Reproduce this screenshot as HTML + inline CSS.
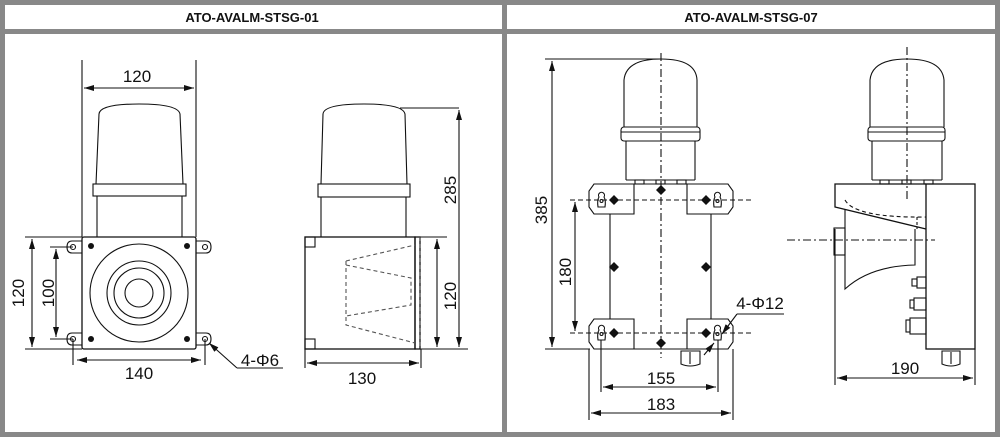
<!DOCTYPE html>
<html><head><meta charset="utf-8"><style>
html,body{margin:0;padding:0;background:#fff;}
svg{display:block;}
text{font-family:"Liberation Sans",Arial,sans-serif;fill:#111;}
</style></head><body>
<svg width="1000" height="437" viewBox="0 0 1000 437" xmlns="http://www.w3.org/2000/svg">
<defs>
<marker id="a" viewBox="0 0 10 6" refX="10" refY="3" markerWidth="10" markerHeight="6" markerUnits="userSpaceOnUse" orient="auto-start-reverse"><path d="M0,0 L10,3 L0,6 z" fill="#111"/></marker>
</defs>
<rect x="0" y="0" width="1000" height="437" fill="#888"/>
<rect x="5" y="5" width="497" height="24" fill="#fff"/>
<rect x="507" y="5" width="488" height="24" fill="#fff"/>
<rect x="5" y="34" width="497" height="398" fill="#fff"/>
<rect x="507" y="34" width="488" height="398" fill="#fff"/>
<text x="252" y="22" font-size="13" font-weight="bold" text-anchor="middle">ATO-AVALM-STSG-01</text>
<text x="751" y="22" font-size="13" font-weight="bold" text-anchor="middle">ATO-AVALM-STSG-07</text>

<g stroke="#111" stroke-width="1.1" fill="none">
<!-- LEFT FRONT VIEW -->
<path d="M96,184 L99,114 Q100,104 139,104 Q178,104 180,114 L183,184"/>
<rect x="93" y="184" width="93" height="12"/>
<line x1="97" y1="196" x2="97" y2="237"/><line x1="182" y1="196" x2="182" y2="237"/>
<rect x="82" y="237" width="114" height="112" rx="2" stroke-width="1.3"/>
<path d="M82,241 L72,241 Q67,241 67,247 Q67,253 72,253 L82,253"/>
<path d="M82,333 L72,333 Q67,333 67,339 Q67,345 72,345 L82,345"/>
<path d="M196,241 L206,241 Q211,241 211,247 Q211,253 206,253 L196,253"/>
<path d="M196,333 L206,333 Q211,333 211,339 Q211,345 206,345 L196,345"/>
<circle cx="73" cy="247" r="2.5"/><circle cx="73" cy="339" r="2.5"/>
<circle cx="205" cy="247" r="2.5"/><circle cx="205" cy="339" r="2.5"/>
<circle cx="139" cy="293" r="49"/>
<circle cx="139" cy="293" r="32"/>
<circle cx="139" cy="293" r="25"/>
<circle cx="139" cy="293" r="14"/>
<line x1="82" y1="60" x2="82" y2="237"/><line x1="196" y1="60" x2="196" y2="237"/>
<line x1="84" y1="88" x2="194" y2="88" marker-start="url(#a)" marker-end="url(#a)"/>
<line x1="25" y1="237" x2="82" y2="237"/><line x1="25" y1="349" x2="82" y2="349"/>
<line x1="32" y1="239" x2="32" y2="347" marker-start="url(#a)" marker-end="url(#a)"/>
<line x1="50" y1="247" x2="73" y2="247"/><line x1="50" y1="339" x2="73" y2="339"/>
<line x1="56" y1="249" x2="56" y2="337" marker-start="url(#a)" marker-end="url(#a)"/>
<line x1="73" y1="339" x2="73" y2="365"/><line x1="205" y1="339" x2="205" y2="365"/>
<line x1="77" y1="360" x2="201" y2="360" marker-start="url(#a)" marker-end="url(#a)"/>
<line x1="237" y1="368" x2="209" y2="343" marker-end="url(#a)"/>
<line x1="237" y1="368" x2="283" y2="368"/>

<!-- LEFT SIDE VIEW -->
<path d="M321,184 L323,114 Q324,104 364,104 Q403,104 405,114 L407,184"/>
<rect x="318" y="184" width="92" height="13"/>
<line x1="321" y1="197" x2="321" y2="237"/><line x1="406" y1="197" x2="406" y2="237"/>
<rect x="305" y="237" width="110" height="112" stroke-width="1.3"/>
<rect x="415" y="237" width="5" height="112" stroke-width="1.3"/>
<rect x="305" y="237" width="10" height="10"/><rect x="305" y="339" width="10" height="10"/>
<g stroke-dasharray="4,3" stroke="#555">
<path d="M346,261 L415,245 M346,261 L346,325 L415,343 M346,265 L411,278 L411,305 L346,316"/>
<line x1="420" y1="237" x2="420" y2="349"/>
</g>
<line x1="400" y1="108" x2="459" y2="108"/>
<line x1="459" y1="110" x2="459" y2="347" marker-start="url(#a)" marker-end="url(#a)"/>
<line x1="420" y1="237" x2="447" y2="237"/><line x1="420" y1="349" x2="468" y2="349"/>
<line x1="437" y1="239" x2="437" y2="347" marker-start="url(#a)" marker-end="url(#a)"/>
<line x1="305" y1="349" x2="305" y2="368"/><line x1="421" y1="349" x2="421" y2="368"/>
<line x1="307" y1="363" x2="419" y2="363" marker-start="url(#a)" marker-end="url(#a)"/>

<!-- RIGHT FRONT VIEW -->
<path d="M624,127 L624,80 Q626,59 661,59 Q696,59 697,80 L697,127"/>
<rect x="621" y="127" width="79" height="14" rx="3"/>
<line x1="621" y1="132" x2="700" y2="132"/>
<line x1="626" y1="141" x2="626" y2="180"/><line x1="695" y1="141" x2="695" y2="180"/>
<line x1="626" y1="180" x2="695" y2="180"/>
<rect x="635" y="180" width="9" height="4"/><rect x="656" y="180" width="9" height="4"/><rect x="677" y="180" width="9" height="4"/>
<!-- top brackets -->
<path d="M634,184 L594,184 L589,191 L589,207 L594,214 L634,214 Z"/>
<path d="M687,184 L728,184 L733,191 L733,207 L728,214 L687,214 Z"/>
<line x1="634" y1="184" x2="687" y2="184"/>
<!-- bottom brackets -->
<path d="M634,319 L594,319 L589,326 L589,342 L594,349 L634,349 Z"/>
<path d="M687,319 L728,319 L733,326 L733,342 L728,349 L687,349 Z"/>
<line x1="634" y1="349" x2="687" y2="349"/>
<line x1="610" y1="214" x2="610" y2="319"/><line x1="711" y1="214" x2="711" y2="319"/>
<!-- keyholes -->
<path d="M598,207 Q597,200 599,197 A3,3 0 1 1 604,197 Q606,200 605,207 Z"/>
<path d="M714,207 Q713,200 715,197 A3,3 0 1 1 720,197 Q722,200 721,207 Z"/>
<path d="M598,340 Q597,333 599,330 A3,3 0 1 1 604,330 Q606,333 605,340 Z"/>
<path d="M714,340 Q713,333 715,330 A3,3 0 1 1 720,330 Q722,333 721,340 Z"/>
<circle cx="601.5" cy="201" r="1.5"/><circle cx="717.5" cy="201" r="1.5"/>
<circle cx="601.5" cy="334" r="1.5"/><circle cx="717.5" cy="334" r="1.5"/>
<path d="M681,351 L700,351 L700,364 Q690,368 681,364 Z"/>
<line x1="690" y1="352" x2="690" y2="364"/>
<g stroke-dasharray="5,3">
<line x1="570" y1="200" x2="752" y2="200"/><line x1="570" y1="333" x2="752" y2="333"/>
</g>
<line x1="661" y1="53" x2="661" y2="358" stroke-dasharray="8,3,2,3"/>
<line x1="545" y1="59" x2="661" y2="59"/><line x1="545" y1="349" x2="590" y2="349"/>
<line x1="552" y1="61" x2="552" y2="347" marker-start="url(#a)" marker-end="url(#a)"/>
<line x1="575" y1="202" x2="575" y2="331" marker-start="url(#a)" marker-end="url(#a)"/>
<line x1="601" y1="340" x2="601" y2="392"/><line x1="718" y1="340" x2="718" y2="392"/>
<line x1="603" y1="387" x2="716" y2="387" marker-start="url(#a)" marker-end="url(#a)"/>
<line x1="589" y1="349" x2="589" y2="420"/><line x1="733" y1="349" x2="733" y2="420"/>
<line x1="591" y1="413" x2="731" y2="413" marker-start="url(#a)" marker-end="url(#a)"/>
<line x1="737" y1="314" x2="784" y2="314"/>
<line x1="737" y1="314" x2="722" y2="334" marker-end="url(#a)"/>
<line x1="704" y1="355" x2="714" y2="343" marker-end="url(#a)"/>

<!-- RIGHT SIDE VIEW -->
<path d="M870,127 L870,80 Q872,59 907,59 Q942,59 944,80 L944,127"/>
<rect x="868" y="127" width="77" height="14" rx="3"/>
<line x1="868" y1="132" x2="945" y2="132"/>
<line x1="872" y1="141" x2="872" y2="180"/><line x1="942" y1="141" x2="942" y2="180"/>
<line x1="872" y1="180" x2="942" y2="180"/>
<rect x="880" y="180" width="9" height="4"/><rect x="902" y="180" width="9" height="4"/><rect x="924" y="180" width="9" height="4"/>
<rect x="926" y="184" width="49" height="165" stroke-width="1.3"/>
<path d="M926,184 L835,184 L835,207 L926,229" stroke-width="1.3"/>
<path d="M845,209 L845,289 Q870,266 915,265 L915,229"/>
<rect x="834" y="228" width="11" height="27"/>
<path d="M845,200 Q855,218 926,217" stroke-dasharray="4,3"/>
<line x1="917" y1="217" x2="917" y2="229" stroke-dasharray="3,2"/>
<line x1="907" y1="47" x2="907" y2="200" stroke-dasharray="8,3,2,3"/>
<line x1="787" y1="240" x2="935" y2="240" stroke-dasharray="8,3,2,3"/>
<rect x="917" y="277" width="9" height="11"/><rect x="912" y="279" width="5" height="7"/>
<rect x="914" y="298" width="12" height="12"/><rect x="910" y="300" width="4" height="8"/>
<rect x="910" y="318" width="16" height="16"/><rect x="906" y="320" width="4" height="12"/>
<path d="M942,351 L960,351 L960,364 Q951,368 942,364 Z"/>
<line x1="951" y1="352" x2="951" y2="364"/>
<line x1="835" y1="229" x2="835" y2="385"/><line x1="975" y1="349" x2="975" y2="385"/>
<line x1="837" y1="378" x2="973" y2="378" marker-start="url(#a)" marker-end="url(#a)"/>
</g>
<g fill="#111">
<circle cx="91" cy="246" r="3"/><circle cx="187" cy="246" r="3"/><circle cx="91" cy="339" r="3"/><circle cx="187" cy="339" r="3"/>
<path d="M614,195 l5,5 l-5,5 l-5,-5z M706,195 l5,5 l-5,5 l-5,-5z M614,262 l5,5 l-5,5 l-5,-5z M706,262 l5,5 l-5,5 l-5,-5z M614,328 l5,5 l-5,5 l-5,-5z M706,328 l5,5 l-5,5 l-5,-5z M661,185 l5,5 l-5,5 l-5,-5z M661,338 l5,5 l-5,5 l-5,-5z"/>
</g>
<g font-size="17">
<text x="137" y="82" text-anchor="middle">120</text>
<text x="139" y="379" text-anchor="middle">140</text>
<text x="260" y="366" text-anchor="middle">4-Φ6</text>
<text x="362" y="384" text-anchor="middle">130</text>
<text transform="translate(24,293) rotate(-90)" text-anchor="middle">120</text>
<text transform="translate(54,293) rotate(-90)" text-anchor="middle">100</text>
<text transform="translate(456,190) rotate(-90)" text-anchor="middle">285</text>
<text transform="translate(456,296) rotate(-90)" text-anchor="middle">120</text>
<text transform="translate(547,210) rotate(-90)" text-anchor="middle">385</text>
<text transform="translate(571,272) rotate(-90)" text-anchor="middle">180</text>
<text x="661" y="384" text-anchor="middle">155</text>
<text x="661" y="410" text-anchor="middle">183</text>
<text x="760" y="309" text-anchor="middle">4-Φ12</text>
<text x="905" y="374" text-anchor="middle">190</text>
</g>
</svg>
</body></html>
